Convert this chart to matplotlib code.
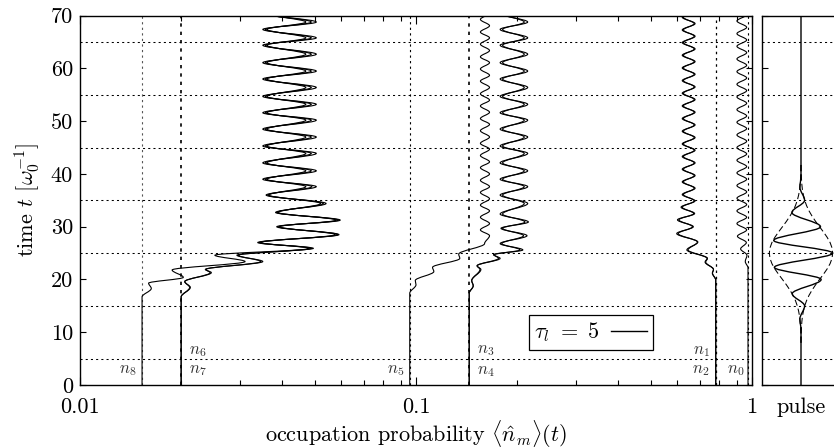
import matplotlib
matplotlib.use("Agg")
import matplotlib.pyplot as plt
from matplotlib.path import Path
from matplotlib.patches import PathPatch
from matplotlib.lines import Line2D
from matplotlib.legend_handler import HandlerLine2D
from matplotlib.ticker import NullFormatter

plt.rcParams['font.family'] = 'serif'
plt.rcParams['font.serif'] = ['cmr10']
plt.rcParams['mathtext.fontset'] = 'cm'
plt.rcParams['axes.formatter.use_mathtext'] = True
plt.rcParams['axes.unicode_minus'] = False

# ---------------- data (turning points) ----------------
labels = ['n0', 'n1', 'n2', 'n3', 'n4', 'n5', 'n6', 'n7', 'n8']
initial_values = [0.973, 0.78, 0.78, 0.144, 0.144, 0.0958, 0.020, 0.020, 0.0153]
grid_times = [5, 15, 25, 35, 45, 55, 65]
x_tick_values = [0.01, 0.1, 1]
x_tick_labels = ['0.01', '0.1', '1']
y_tick_values = [0, 10, 20, 30, 40, 50, 60, 70]

band_t = [25.9, 27.0, 28.5, 30.0, 31.25, 32.7, 34.4, 36.0, 37.6, 39.0, 40.6, 42.1,
          43.9, 45.3, 47.0, 48.5, 50.2, 51.6, 53.2, 54.7, 56.4, 58.0, 59.5, 61.1,
          62.7, 64.4, 65.8, 67.4, 68.8, 70.4]

n8_t = [0, 16.7, 18.3, 19.3, 20.4, 21.8, 23.4, 24.6] + band_t
n8_x = [0.0153, 0.0153, 0.0163, 0.0160, 0.0203, 0.0188, 0.0310, 0.0252,
        0.0495, 0.0338, 0.0590, 0.0385, 0.0595, 0.0382, 0.0540, 0.0358, 0.0505, 0.0350,
        0.0505, 0.0350, 0.0505, 0.0350, 0.0505, 0.0350, 0.0505, 0.0350, 0.0505, 0.0350,
        0.0505, 0.0350, 0.0505, 0.0350, 0.0505, 0.0350, 0.0505, 0.0350, 0.0505, 0.0350]

n7_t = [0, 16.7, 18.5, 19.6, 21.3, 21.9, 23.4, 24.6] + band_t
n7_x = [0.0200, 0.0200, 0.0213, 0.0205, 0.0246, 0.0236, 0.0350, 0.0293,
        0.0488, 0.0342, 0.0585, 0.0390, 0.0588, 0.0386, 0.0530, 0.0362, 0.0490, 0.0356,
        0.0488, 0.0356, 0.0488, 0.0356, 0.0488, 0.0356, 0.0488, 0.0356, 0.0488, 0.0356,
        0.0488, 0.0356, 0.0488, 0.0356, 0.0488, 0.0356, 0.0488, 0.0356, 0.0488, 0.0356]

n6_t = [0, 16.7, 18.5, 19.6, 21.3, 21.9, 23.4, 24.6] + band_t
n6_x = [0.0200, 0.0200, 0.0212, 0.0205, 0.0244, 0.0237, 0.0345, 0.0296,
        0.0480, 0.0345, 0.0575, 0.0392, 0.0578, 0.0389, 0.0520, 0.0365, 0.0470, 0.0360,
        0.0470, 0.0360, 0.0470, 0.0360, 0.0470, 0.0360, 0.0470, 0.0360, 0.0470, 0.0360,
        0.0470, 0.0360, 0.0470, 0.0360, 0.0470, 0.0360, 0.0470, 0.0360, 0.0470, 0.0360]

n5_t = [0, 17.4, 19.0, 19.8, 21.5, 22.3, 24.0, 24.8, 26.8, 28.3, 29.4, 30.6, 31.8, 33.0,
        34.1, 35.3, 36.5, 37.6, 38.8, 40.0, 41.2, 42.3, 43.5, 44.7, 45.8, 47.0, 48.2,
        49.4, 50.5, 51.7, 52.9, 54.0, 55.2, 56.4, 57.6, 58.7, 59.9, 61.1, 62.2, 63.4,
        64.6, 65.8, 66.9, 68.1, 69.3, 70.5]
n5_x = [0.0958, 0.0958, 0.1000, 0.0995, 0.1130, 0.1120, 0.1350, 0.1340, 0.1600,
        0.1655, 0.1555, 0.1655, 0.1555, 0.1655, 0.1555, 0.1655, 0.1555, 0.1655, 0.1555,
        0.1655, 0.1555, 0.1655, 0.1555, 0.1655, 0.1555, 0.1655, 0.1555, 0.1655, 0.1555,
        0.1655, 0.1555, 0.1655, 0.1555, 0.1655, 0.1555, 0.1655, 0.1555, 0.1655, 0.1555,
        0.1655, 0.1555, 0.1655, 0.1555, 0.1655, 0.1555, 0.1655]

band34_t = [25.6, 26.8, 28.3, 29.7, 30.9, 32.4, 34.4, 36.0, 37.6, 39.0, 40.6, 42.1,
            43.9, 45.3, 47.0, 48.5, 50.2, 51.6, 53.2, 54.7, 56.4, 58.0, 59.5, 61.1,
            62.7, 64.4, 65.8, 67.4, 68.8, 70.4]
n3_t = [0, 17.4, 18.8, 19.8, 21.9, 22.6, 24.0, 24.7] + band34_t
n3_x = [0.144, 0.144, 0.148, 0.1465, 0.156, 0.152, 0.178, 0.170,
        0.208, 0.178, 0.214, 0.179, 0.216, 0.178, 0.215, 0.178, 0.215, 0.178,
        0.215, 0.178, 0.215, 0.178, 0.215, 0.178, 0.215, 0.178, 0.215, 0.178,
        0.215, 0.178, 0.215, 0.178, 0.215, 0.178, 0.215, 0.178, 0.215, 0.178]
n4_t = [0, 17.4, 18.8, 19.8, 21.9, 22.6, 24.0, 24.7] + band34_t
n4_x = [0.144, 0.144, 0.148, 0.1465, 0.155, 0.152, 0.176, 0.171,
        0.204, 0.180, 0.209, 0.181, 0.211, 0.181, 0.210, 0.181, 0.210, 0.181,
        0.210, 0.181, 0.210, 0.181, 0.210, 0.181, 0.210, 0.181, 0.210, 0.181,
        0.210, 0.181, 0.210, 0.181, 0.210, 0.181, 0.210, 0.181, 0.210, 0.181]

band12_t = [25.6, 27.1, 28.7, 30.0, 31.3, 32.5, 33.7, 34.9, 36.1, 37.3, 38.5, 39.7,
            40.9, 42.1, 43.3, 44.5, 45.7, 46.9, 48.1, 49.3, 50.5, 51.7, 52.9, 54.1,
            55.3, 56.5, 57.7, 58.9, 60.1, 61.3, 62.5, 63.7, 64.9, 66.1, 67.3, 68.5,
            69.7, 70.9]
n1_t = [0, 19.9, 21.2, 21.9, 23.3, 24.0] + band12_t
n1_x = [0.78, 0.78, 0.762, 0.768, 0.725, 0.735,
        0.640, 0.690, 0.597, 0.669, 0.600, 0.675, 0.615, 0.677, 0.620, 0.677,
        0.620, 0.677, 0.620, 0.677, 0.620, 0.677, 0.620, 0.677, 0.620, 0.677,
        0.620, 0.677, 0.620, 0.677, 0.620, 0.677, 0.620, 0.677, 0.620, 0.677,
        0.620, 0.677, 0.620, 0.677, 0.620, 0.677, 0.620, 0.677]
n2_t = [0, 19.9, 21.2, 21.9, 23.3, 24.0] + band12_t
n2_x = [0.78, 0.78, 0.763, 0.768, 0.728, 0.737,
        0.645, 0.688, 0.603, 0.665, 0.606, 0.671, 0.620, 0.673, 0.625, 0.673,
        0.625, 0.673, 0.625, 0.673, 0.625, 0.673, 0.625, 0.673, 0.625, 0.673,
        0.625, 0.673, 0.625, 0.673, 0.625, 0.673, 0.625, 0.673, 0.625, 0.673,
        0.625, 0.673, 0.625, 0.673, 0.625, 0.673, 0.625, 0.673]

n0_t = [0, 22.2, 23.4, 24.6, 25.8, 27.0, 28.2, 29.4, 30.6, 31.8, 33.0, 34.2, 35.4,
        36.6, 37.8, 39.0, 40.2, 41.4, 42.6, 43.8, 45.0, 46.2, 47.4, 48.6, 49.8, 51.0,
        52.2, 53.4, 54.6, 55.8, 57.0, 58.2, 59.4, 60.6, 61.8, 63.0, 64.2, 65.4, 66.6,
        67.8, 69.0, 70.2]
n0_x = [0.973, 0.973, 0.955, 0.966, 0.925, 0.962, 0.905, 0.964, 0.902, 0.964,
        0.902, 0.964, 0.902, 0.964, 0.902, 0.964, 0.902, 0.964, 0.902, 0.964,
        0.902, 0.964, 0.902, 0.964, 0.902, 0.964, 0.902, 0.964, 0.902, 0.964,
        0.902, 0.964, 0.902, 0.964, 0.902, 0.964, 0.902, 0.964, 0.902, 0.964,
        0.902, 0.964]

# pulse panel
pulse_t = [0, 10.5, 12.5, 15.0, 17.3, 20.0, 22.3, 25.0, 27.4, 30.0, 32.7, 35.0, 37.5, 39.5, 70]
pulse_x = [0, 0, -0.035, 0.11, -0.27, 0.62, -0.82, 0.975, -0.84, 0.60, -0.28, 0.11, -0.035, 0, 0]
envelope_t = [8, 9, 10, 11, 12, 13, 14, 15, 16, 17, 18, 19, 20, 21, 22, 23, 24, 25,
              26, 27, 28, 29, 30, 31, 32, 33, 34, 35, 36, 37, 38, 39, 40, 41, 42]
envelope_x = [0.002, 0.004, 0.008, 0.015, 0.026, 0.044, 0.073, 0.114, 0.171, 0.247,
              0.341, 0.450, 0.570, 0.692, 0.804, 0.895, 0.954, 0.975, 0.954, 0.895,
              0.804, 0.692, 0.570, 0.450, 0.341, 0.247, 0.171, 0.114, 0.073, 0.044,
              0.026, 0.015, 0.008, 0.004, 0.002]

legend_label = r'$\tau_l\ =\ 5$'


def draw_trace(ax, t, x, lw=0.8, color='k'):
    verts = [(x[0], t[0])]
    codes = [Path.MOVETO]
    for i in range(len(t) - 1):
        d = (t[i + 1] - t[i]) / 3.0
        verts += [(x[i], t[i] + d), (x[i + 1], t[i + 1] - d), (x[i + 1], t[i + 1])]
        codes += [Path.CURVE4] * 3
    ax.add_patch(PathPatch(Path(verts, codes), fill=False, edgecolor=color,
                           lw=lw, capstyle='butt', joinstyle='round'))


class ShortLineHandler(HandlerLine2D):
    """Legend line drawn on the left part of the handle box (MATLAB-like)."""
    def create_artists(self, legend, orig_handle, xdescent, ydescent, width,
                       height, fontsize, trans):
        arts = super().create_artists(legend, orig_handle, xdescent, ydescent,
                                      width, height, fontsize, trans)
        for a in arts:
            xd = a.get_xdata()
            if len(xd) == 2:
                a.set_xdata([xd[0], xd[0] + (xd[1] - xd[0]) * 0.66])
        return arts


W, H = 834, 448
fig = plt.figure(figsize=(W / 100, H / 100), dpi=100)
ax = fig.add_axes([80 / W, 63 / H, 672 / W, 369.3 / H])
axp = fig.add_axes([762 / W, 63 / H, 78 / W, 369.3 / H])

dot = (0, (2, 3))
for g in grid_times:
    ax.axhline(g, color='k', lw=0.75, ls=dot, zorder=1)
    axp.axhline(g, color='k', lw=0.75, ls=dot, zorder=1)

for v, c, w in [(0.0153, '#555555', 0.8), (0.020, 'k', 1.2), (0.0958, 'k', 0.8),
                (0.144, 'k', 1.2), (0.78, 'k', 0.9), (0.973, 'k', 0.8)]:
    ax.axvline(v, color=c, lw=w, ls=dot, zorder=1)

for t, x in [(n8_t, n8_x), (n7_t, n7_x), (n6_t, n6_x), (n5_t, n5_x), (n4_t, n4_x),
             (n3_t, n3_x), (n2_t, n2_x), (n1_t, n1_x), (n0_t, n0_x)]:
    draw_trace(ax, t, x)

ax.set_xscale('log')
ax.set_xlim(0.01, 1)
ax.set_ylim(0, 70)
ax.set_xticks(x_tick_values)
ax.set_xticklabels(x_tick_labels)
ax.xaxis.set_minor_formatter(NullFormatter())
ax.set_yticks(y_tick_values)
ax.set_yticklabels([str(v) for v in y_tick_values])
ax.tick_params(which='both', direction='in', top=True, right=True, labelsize=16,
               colors='k', width=0.8)
ax.tick_params(axis='x', which='major', length=6, pad=9)
ax.tick_params(axis='x', which='minor', length=3.5)
ax.tick_params(axis='y', which='major', length=4, pad=5)
for s in ax.spines.values():
    s.set_linewidth(1.0)

ax.set_xlabel(r'occupation probability $\langle\hat{n}_m\rangle(t)$', fontsize=16, labelpad=0.5)
ax.set_ylabel(r'time $t$ $[\omega_0^{-1}]$', fontsize=16, labelpad=6)

lab_col = '#333333'
ann = [('$n_8$', 0.0153, 2.7, -6, 'right'), ('$n_6$', 0.020, 6.4, 8, 'left'),
       ('$n_7$', 0.020, 2.7, 8, 'left'), ('$n_5$', 0.0958, 2.7, -5, 'right'),
       ('$n_3$', 0.144, 6.5, 8, 'left'), ('$n_4$', 0.144, 2.6, 8, 'left'),
       ('$n_1$', 0.78, 6.4, -6, 'right'), ('$n_2$', 0.78, 2.7, -6, 'right'),
       ('$n_0$', 0.973, 2.7, -4, 'right')]
for s, xv, tv, dx, ha in ann:
    ax.annotate(s, (xv, tv), xytext=(dx, 0), textcoords='offset pixels', ha=ha,
                va='center', fontsize=12, color=lab_col)

h = Line2D([], [], color='k', lw=1.0)
leg = ax.legend([h], [legend_label], loc='center', bbox_to_anchor=(0.76, 0.142),
                markerfirst=False, fancybox=False, edgecolor='k', framealpha=1,
                fontsize=16, handlelength=1.6, borderpad=0.25, handletextpad=0.5,
                borderaxespad=0, handler_map={Line2D: ShortLineHandler()})
leg.get_frame().set_linewidth(0.9)

# pulse panel
draw_trace(axp, pulse_t, pulse_x, lw=1.0)
axp.plot(envelope_x, envelope_t, color='k', lw=0.75, ls=(0, (6, 3)))
axp.plot([-e for e in envelope_x], envelope_t, color='k', lw=0.75, ls=(0, (6, 3)))
axp.set_xlim(-1.2, 1.2)
axp.set_ylim(0, 70)
axp.set_xticks([0])
axp.set_xticklabels(['pulse'])
axp.set_yticks(y_tick_values)
axp.set_yticklabels([])
axp.tick_params(axis='x', length=0, labelsize=16, pad=9)
axp.tick_params(axis='y', direction='in', left=True, right=True, length=4, width=0.8)
for s in axp.spines.values():
    s.set_linewidth(1.0)

fig.savefig('out.png', dpi=100)
